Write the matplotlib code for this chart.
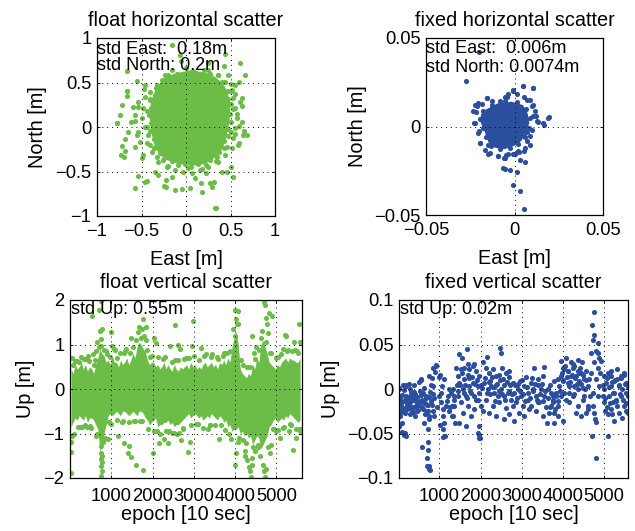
import matplotlib
matplotlib.use("Agg")
import matplotlib.pyplot as plt

plt.rcParams['font.family'] = ['Liberation Sans', 'DejaVu Sans']

GREEN = '#6cbd47'
BLUE = '#2c4e9e'

# ---------------- data ----------------
# float horizontal: dense core outline (east, north) + individual points
float_core_e = [-0.137, 0.061, 0.270, 0.380, 0.457, 0.501, 0.490, 0.457, 0.413, 0.336, 0.215, 0.061, -0.093,
                -0.247, -0.346, -0.390, -0.412, -0.390, -0.335, -0.236]
float_core_n = [0.597, 0.641, 0.597, 0.520, 0.421, 0.256, 0.058, -0.107, -0.239, -0.338, -0.415, -0.437,
                -0.415, -0.360, -0.239, -0.063, 0.135, 0.300, 0.432, 0.542]
float_e = [-0.16, 0.25, -0.06, 0.61, 0.43, 0.44, -0.07, -0.66, -0.55, -0.47, -0.66, -0.66, -0.72, -0.60,
           -0.54, -0.74, -0.62, -0.77, -0.57, -0.65, -0.55, -0.69, -0.72, -0.68, -0.73, -0.57, -0.48,
           -0.54, -0.57, -0.44, -0.32, -0.25, -0.22, -0.12, -0.04, 0.05, 0.18, 0.17, 0.27, 0.32, 0.22, 0.33,
           0.46, 0.51, 0.59, 0.55, 0.68, 0.65, 0.59, 0.57, 0.63, 0.63, 0.55, 0.51, 0.59,
           0.66, 0.64, -0.78, -0.70, -0.46, -0.22, 0.29, 0.34, 0.53, -0.66,
           -0.199, -0.273, -0.330, -0.404, -0.461, -0.479, -0.498, -0.461, -0.423, -0.442, -0.386, -0.311,
           -0.217, -0.124, -0.030, 0.064, 0.157, 0.251, 0.363, 0.438, 0.513, 0.532, 0.551, 0.569, 0.551,
           0.532, 0.513, 0.438, 0.363, 0.251, -0.161, -0.461, -0.536, -0.573, -0.536, -0.517, -0.498,
           -0.348, -0.161, 0.101, 0.401, 0.588, 0.625, 0.607, 0.551, 0.476,
           -0.10, 0.08, 0.27, 0.40, 0.47, 0.51, 0.50, 0.47, 0.43, 0.35, 0.22, 0.06, -0.09, -0.26, -0.36,
           -0.40, -0.42, -0.40, -0.34, -0.23,
           -0.03, 0.16, 0.31, 0.41, 0.47, 0.49, 0.47, 0.43, 0.37, 0.27, 0.13, -0.01, -0.16, -0.29, -0.36,
           -0.39, -0.39, -0.35, -0.27, -0.17,
           0.00, 0.20, 0.36, 0.50, 0.53, 0.50, 0.46, 0.34, 0.18, 0.02, -0.20, -0.33, -0.41, -0.44, -0.44,
           -0.41, -0.33, -0.24]
float_n = [0.92, 0.72, 0.74, 0.72, 0.68, 0.82, 0.81, 0.63, 0.52, 0.43, 0.40, 0.35, 0.25, 0.22,
           0.22, 0.13, 0.06, 0.04, 0.07, -0.06, -0.09, -0.14, -0.21, -0.27, -0.31, -0.23, -0.32,
           -0.55, -0.69, -0.61, -0.54, -0.66, -0.59, -0.71, -0.70, -0.69, -0.73, -0.63, -0.63, -0.62, -0.52, -0.91,
           -0.51, -0.45, -0.18, -0.08, -0.09, -0.04, 0.01, 0.15, 0.24, 0.33, 0.37, 0.48, 0.51,
           0.58, -0.09, 0.04, -0.34, -0.62, -0.67, -0.67, -0.91, -0.56, 0.40,
           0.584, 0.528, 0.472, 0.397, 0.341, 0.210, 0.097, 0.004, -0.090, -0.184, -0.277, -0.390,
           -0.446, -0.483, -0.502, -0.521, -0.483, -0.446, -0.390, -0.315, -0.240, -0.127, -0.015, 0.097, 0.210,
           0.322, 0.416, 0.509, 0.584, 0.640, 0.640, 0.472, 0.285, 0.135, -0.052, -0.165, -0.352,
           -0.502, -0.558, -0.577, -0.502, -0.202, 0.060, 0.285, 0.472, 0.584,
           0.60, 0.63, 0.59, 0.51, 0.41, 0.26, 0.06, -0.10, -0.24, -0.34, -0.43, -0.45, -0.43, -0.37, -0.24,
           -0.05, 0.14, 0.30, 0.44, 0.54,
           0.60, 0.60, 0.54, 0.45, 0.32, 0.15, -0.02, -0.16, -0.28, -0.37, -0.42, -0.42, -0.38, -0.29, -0.14,
           0.04, 0.21, 0.36, 0.48, 0.56,
           0.66, 0.64, 0.58, 0.40, 0.20, -0.06, -0.22, -0.38, -0.47, -0.46, -0.44, -0.34, -0.20, 0.00, 0.18,
           0.32, 0.46, 0.58]

# fixed horizontal: dense core outline + individual points
fixed_core_e = [-0.0165, -0.0092, -0.0016, 0.0048, 0.0074, 0.0084, 0.0065, 0.0038, 0.0000, -0.0056,
                -0.0110, -0.0147, -0.0166, -0.0190, -0.0190]
fixed_core_n = [0.0094, 0.0132, 0.0140, 0.0121, 0.0075, 0.0020, -0.0036, -0.0082, -0.0109, -0.0128,
                -0.0120, -0.0090, -0.0036, 0.0020, 0.0067]
fixed_e = [-0.0273, -0.0199, 0.0049, 0.0107, -0.0011, -0.0053, -0.0040, -0.0156, -0.0186, -0.0210, -0.0218,
           -0.0228, -0.0200, -0.0194, -0.0168, -0.0147, -0.0096, -0.0058, -0.0049, -0.0006, 0.0026, 0.0055,
           0.0085, 0.0062, 0.0030, -0.0064, -0.0055, -0.0024, 0.0013, -0.0006, 0.0030, 0.0055, 0.0196,
           0.0168, 0.0121, 0.0130, 0.0102, 0.0089, 0.0055, 0.0070, 0.0051,
           -0.0233, -0.0223, -0.0204, -0.0157, -0.0129, -0.0082, -0.0045, -0.0035, -0.0007, 0.0012, 0.0050,
           0.0107, 0.0069, 0.0097, 0.0116, 0.0107, 0.0126, 0.0163, 0.0191, 0.0097, 0.0088, 0.0069, 0.0060,
           0.0022, 0.0003, -0.0035, -0.0054, -0.0092, -0.0138, -0.0148, -0.0195, -0.0204, -0.0223,
           -0.0128, -0.0052, 0.0016, 0.0066, 0.0086, 0.0082, 0.0058, 0.0022, -0.0026, -0.0082, -0.0130,
           -0.0160, -0.0180, -0.0196, -0.0180]
fixed_n = [0.0256, 0.0420, 0.0228, 0.0217, 0.0209, 0.0169, 0.0169, 0.0160, 0.0128, 0.0113, 0.0081,
           0.0021, -0.0023, -0.0094, -0.0130, -0.0154, -0.0164, -0.0179, -0.0160, -0.0154, -0.0145, -0.0136,
           -0.0107, -0.0202, -0.0192, -0.0235, -0.0239, -0.0245, -0.0258, -0.0328, -0.0367, -0.0465, 0.0051,
           0.0009, 0.0062, 0.0024, 0.0119, 0.0147, 0.0166, -0.0032, -0.0051,
           0.0087, 0.0124, 0.0134, 0.0162, 0.0143, 0.0143, 0.0171, 0.0181, 0.0200, 0.0181, 0.0228,
           0.0218, 0.0152, 0.0115, 0.0087, 0.0058, 0.0030, 0.0021, 0.0049, -0.0017, -0.0055, -0.0083, -0.0121,
           -0.0140, -0.0158, -0.0158, -0.0177, -0.0168, -0.0149, -0.0102, -0.0092, -0.0036, 0.0021,
           0.0122, 0.0142, 0.0138, 0.0100, 0.0046, -0.0008, -0.0062, -0.0100, -0.0124, -0.0128, -0.0108,
           -0.0062, -0.0008, 0.0044, 0.0090]

# float vertical: dense band (per 50-epoch bin) + individual points
band_epoch = [25, 75, 125, 175, 225, 275, 325, 375, 425, 475, 525, 575, 625, 675, 725, 775, 825, 875,
              925, 975, 1025, 1075, 1125, 1175, 1225, 1275, 1325, 1375, 1425, 1475, 1525, 1575, 1625, 1675,
              1725, 1775, 1825, 1875, 1925, 1975, 2025, 2075, 2125, 2175, 2225, 2275, 2325, 2375, 2425, 2475,
              2525, 2575, 2625, 2675, 2725, 2775, 2825, 2875, 2925, 2975, 3025, 3075, 3125, 3175, 3225, 3275,
              3325, 3375, 3425, 3475, 3525, 3575, 3625, 3675, 3725, 3775, 3825, 3875, 3925, 3975, 4025, 4075,
              4125, 4175, 4225, 4275, 4325, 4375, 4425, 4475, 4525, 4575, 4625, 4675, 4725, 4775, 4825, 4875,
              4925, 4975, 5025, 5075, 5125, 5175, 5225, 5275, 5325, 5375, 5425, 5475, 5525, 5575]
band_hi = [0.45, 0.35, 0.55, 0.45, 0.50, 0.60, 0.45, 0.55, 0.40, 0.50, 0.45, 0.35, 0.55, 0.70, 0.90, 0.80,
           0.75, 0.60, 0.65, 0.55, 0.75, 0.60, 0.60, 0.50, 0.65, 0.55, 0.60, 0.70, 0.55, 0.65, 0.80, 0.70,
           0.95, 1.05, 1.00, 0.90, 0.85, 0.65, 0.55, 0.60, 0.60, 0.50, 0.55, 0.45, 0.50, 0.60, 0.45, 0.55,
           0.45, 0.40, 0.55, 0.45, 0.40, 0.50, 0.45, 0.50, 0.55, 0.45, 0.60, 0.50, 0.55, 0.45, 0.50, 0.45,
           0.55, 0.60, 0.50, 0.55, 0.60, 0.50, 0.55, 0.45, 0.60, 0.55, 0.65, 0.55, 0.70, 0.60, 0.95, 1.15,
           1.30, 1.00, 0.45, 0.35, 0.30, 0.25, 0.35, 0.30, 0.55, 0.45, 0.70, 0.60, 1.00, 1.10, 0.95, 0.80,
           0.60, 0.55, 0.50, 0.45, 0.55, 0.50, 0.60, 0.65, 0.70, 0.60, 0.70, 0.65, 0.65, 0.60, 0.60, 0.70]
band_lo = [-0.85, -0.75, -0.65, -0.70, -0.60, -0.65, -0.70, -0.60, -0.75, -0.65, -0.65, -0.70, -0.80, -0.90,
           -1.40, -1.30, -1.00, -0.80, -0.60, -0.55, -0.60, -0.55, -0.50, -0.55, -0.60, -0.50, -0.50, -0.55,
           -0.60, -0.55, -0.50, -0.55, -0.60, -0.50, -0.50, -0.55, -0.65, -0.70, -0.80, -0.75, -0.70, -0.65,
           -0.85, -0.80, -0.80, -0.75, -0.75, -0.70, -0.80, -0.75, -0.85, -0.80, -0.80, -0.75, -0.70, -0.65,
           -0.60, -0.55, -0.65, -0.60, -0.55, -0.60, -0.65, -0.60, -0.70, -0.65, -0.60, -0.65, -0.55, -0.60,
           -0.65, -0.70, -0.60, -0.65, -0.75, -0.70, -0.85, -0.80, -0.95, -0.90, -0.90, -0.85, -1.00, -0.95,
           -1.05, -1.00, -1.10, -1.05, -1.25, -1.15, -1.05, -1.10, -1.35, -1.25, -1.15, -1.05, -0.85, -0.80,
           -0.70, -0.65, -0.75, -0.70, -0.65, -0.70, -0.60, -0.65, -0.55, -0.60, -0.65, -0.70, -0.75, -0.70]
float_up_epoch = [20, 28, 16, 48, 60, 120, 230, 300, 435, 475, 531, 560, 644, 694, 716, 756, 772, 760, 740,
                  745, 752, 760, 755, 768, 756, 770, 780, 790, 918, 998, 1030, 1160, 1320, 1360, 1400, 1430,
                  1480, 1490, 1610, 1640, 1682, 1746, 1770, 1762, 1800, 1830, 1850, 2005, 2044, 2080, 2164,
                  2285, 2375, 2430, 2527, 2535, 2607, 2660, 2700, 2728, 2860, 2900, 2990, 2950, 3180, 3350,
                  3450, 3600, 3700, 3850, 3960, 3990, 4000, 4020, 4040, 4080, 4000, 4030, 4060, 4230, 4250,
                  4300, 4330, 4360, 4380, 4400, 4420, 4440, 4410, 4500, 4560, 4650, 4670, 4690, 4710, 4720,
                  4730, 4750, 4760, 4780, 4800, 4830, 4840, 4870, 4900, 4990, 5090, 5150, 5215, 5240, 5300,
                  5390, 5420, 5470, 5500, 5540, 5560, 5590,
                  200, 350, 420, 600, 650, 880, 950, 1100, 1250, 1300, 1550, 1700, 1950, 2100, 2250, 2400,
                  2550, 2650, 2800, 3100, 3250, 3400, 3550, 3650, 3800, 4150, 4200, 4300, 4450, 4550, 4620,
                  4850, 4950, 5050, 5150, 5250, 5350, 5450, 5550,
                  80, 180, 260, 380, 470, 590, 630, 700, 820, 900, 980, 1070, 1150, 1220, 1330, 1450, 1520,
                  1600, 1720, 1870, 1990, 2140, 2300, 2470, 2620, 2760, 2880, 3010, 3130, 3300, 3420, 3580,
                  3720, 3880, 4060, 4180, 4350, 4480, 4590, 4760, 4880, 5000, 5120, 5280, 5380, 5520,
                  100, 240, 370, 500, 620, 850, 1000, 1130, 1280, 1420, 1580, 1740, 1880, 2030, 2190, 2330,
                  2480, 2600, 2740, 2920, 3060, 3220, 3380, 3520, 3760, 3900, 4100, 4270, 4480, 4610, 4790,
                  4920, 5030, 5180, 5330, 5480, 5580]
float_up = [-1.89, -1.41, -1.20, -1.05, 0.70, 0.62, 0.60, -0.85, 0.74, -0.83, 1.63, 0.78, 1.06, 1.77, 1.30, 1.98,
            1.34, 1.12, 0.97, -1.28, -1.43, -1.58, -1.73, -1.84, -1.96, -1.50, -1.65, -1.20, -1.13, 1.27, 0.97,
            -1.06, -1.21, 0.89, -1.43, -1.28, 1.15, -1.52, -1.70, 1.28, 1.40, 1.34, 1.58, -1.81, 1.20, 1.10,
            1.40, -1.43, 1.15, 1.04, -1.21, -1.13, -1.22, 0.97, -0.98, 1.44, 1.00, 0.89, -1.15, -0.91, -1.41,
            -1.20, 1.53, 0.97, 0.92, -0.90, 0.78, -1.13, 0.75, -1.00, 1.34, 1.20, 1.77, 1.58, 1.45, 1.75,
            -1.70, -1.43, -1.20, -1.40, -1.50, -1.60, -1.75, -1.85, -1.98, -1.70, -1.55, -1.30, 1.19, 0.95,
            -1.30, 1.30, -1.70, -1.85, 1.96, -1.97, 1.88, -1.80, 1.60, 1.45, 1.25, 1.70, -1.44, -1.25, 1.64,
            -0.95, -1.10, 0.90, 1.21, 1.20, -0.95, -1.37, 1.05, -1.10, 0.85, 1.47, 1.06, -0.90,
            -0.85, 0.68, -0.85, 0.65, -1.00, 0.85, -0.75, 0.88, -0.75, 0.82, -0.72, -0.72, 0.72, -0.95,
            0.68, -0.95, 0.65, -0.98, 0.70, -0.78, 0.75, -0.80, 0.72, -0.82, 0.82, 0.65, -1.15, 0.50, 0.80,
            -1.25, 1.15, 0.80, -0.90, 0.72, -0.88, 0.85, -0.80, 0.88, -0.90,
            0.55, 0.62, 0.72, 0.68, 0.62, 0.55, 0.85, 0.95, 0.88, 0.78, 0.72, 0.90, 0.70, 0.80, 0.85, 0.80, 0.95,
            1.10, 1.15, 0.88, 0.75, 0.72, 0.72, 0.60, 0.65, 0.68, 0.70, 0.75, 0.65, 0.78, 0.72, 0.68,
            0.80, 0.85, 1.45, 0.55, 0.50, 0.68, 0.88, 1.05, 0.80, 0.70, 0.78, 0.88, 0.85, 0.82,
            -1.00, -0.85, -0.82, -0.88, -1.05, -1.10, -0.78, -0.70, -0.72, -0.75, -0.72, -0.72, -0.90, -0.95,
            -1.00, -0.95, -0.98, -1.02, -0.88, -0.80, -0.78, -0.88, -0.80, -0.82, -0.92, -1.12, -1.10, -1.22,
            -1.40, -1.50, -1.30, -0.90, -0.92, -0.85, -0.78, -0.90, -0.95]

# fixed vertical: individual points (epoch, up in mm)
fixed_up_epoch = [22, 47, 7, 22, 86, 102, 142, 167, 199, 223, 183, 264, 280, 304, 345, 385, 385, 426, 466, 466,
                  506, 547, 587, 603, 628, 652, 685, 709, 733, 749, 773, 789, 814, 830, 854, 870, 894, 910,
                  102, 142, 264, 385, 506, 547,
                  574, 736, 719, 703, 703, 743, 760, 784,
                  557, 760, 840, 921, 857, 679, 598, 719, 760, 638, 719, 760,
                  16, 32, 73, 113, 154, 48, 97, 16, 154, 178, 113, 194, 275, 315, 356, 396, 259, 339, 436, 194,
                  234, 291,
                  1002, 1042, 1083, 1123, 1147, 1164, 1204, 1244, 1285, 1325, 1365, 1067, 1123, 1228, 1309, 1341,
                  1390, 1083, 1026, 986, 1090,
                  1406, 1487, 1665, 1608, 1729, 1810, 1850, 1891, 1972, 1446, 1487, 1568, 1648, 1770, 1891, 2012,
                  1689, 1568, 1487, 1648, 1931, 1956, 1527, 1810, 1729, 1931, 1608, 1446, 1365, 1850, 1770, 1527,
                  1689, 1972, 2036, 1963, 1963, 1980,
                  2069, 2133, 2214, 2295, 2376, 2457, 2537, 2618, 2699, 2780, 2093, 2174, 2255, 2335, 2416, 2497,
                  2578, 2659, 2740, 2133, 2295, 2457, 2618, 2780, 2214, 2376, 2578, 2699, 2052, 2231, 2376, 2521,
                  2683, 2165, 2480, 2490,
                  2820, 2901, 2981, 3062, 3143, 3224, 2860, 3022, 2941, 2820, 3062, 3183, 2779, 2965, 3103, 3304,
                  3547, 3507, 3385, 3264, 3345, 3426, 3467, 3547, 3628, 3224, 3345, 3385, 3507, 3612, 3669, 3709,
                  3790, 3871, 3952, 3749, 3830, 3911, 3693, 3790, 3871, 3952, 3749, 3871, 3992, 3790,
                  3952, 4073, 4275, 4356, 4436, 4194, 4032, 4113, 4517, 4598, 4356, 4234, 4032, 4154, 4356, 4436,
                  4557, 4598, 3992, 4113, 4194, 4315, 4396, 4477, 4557, 4275, 4073, 4477, 4396, 4234, 4154, 4315,
                  4517, 4614, 3992, 4460,
                  4743, 4703, 4759, 4719, 4856, 4800, 4840, 4880, 4921, 4679, 4759, 4679, 4800, 4880, 4840, 4719,
                  4783, 4800, 4703, 4800, 5099, 4638, 4719, 4905, 4646, 4759, 4856,
                  5083, 5164, 5325, 5406, 5487, 5527, 5164, 5002, 5245, 5406, 5568, 5002, 5164, 5325, 5487, 5430,
                  5568, 5083, 5043, 5245, 5366, 5285, 4962, 5124, 5204, 5446, 5325, 5527, 5002, 5366, 5245, 5527,
                  5018, 5164,
                  60, 130, 210, 250, 320, 360, 410, 450, 490, 530, 570, 610, 660, 700, 790, 850, 880, 60, 170,
                  290, 400, 520,
                  950, 1050, 1100, 1180, 1260, 1300, 1350, 1020,
                  1420, 1460, 1510, 1550, 1590, 1630, 1670, 1710, 1750, 1790, 1830, 1870, 1910, 1950, 2000, 1700,
                  1560,
                  2110, 2150, 2200, 2240, 2280, 2320, 2360, 2400, 2440, 2480, 2520, 2560, 2600, 2640, 2680, 2720,
                  2760,
                  2840, 2880, 2920, 2960, 3000, 3040, 3080, 3120, 3160, 3200, 3240, 3280, 3320, 3360, 3400, 3440,
                  3480, 3520, 3560, 3600, 3640, 3680, 3720, 3760, 3800, 3840, 3880, 3920,
                  3970, 4010, 4050, 4090, 4130, 4170, 4210, 4250, 4290, 4330, 4370, 4410, 4450, 4490, 4530, 4570,
                  4150, 4280,
                  4980, 5030, 5060, 5110, 5140, 5190, 5220, 5270, 5300, 5350, 5390, 5420, 5460, 5500, 5540, 5570,
                  5060, 5200, 5480]
fixed_up_mm = [1, -10, -31, -42, -22, -7, -1, -27, -10, -18, 4, -9, -14, -22, -10, -3, -20, -14, -9, -25,
               -18, -7, -12, -22, 1, -16, -10, -25, -18, -9, -3, 4, 12, -18, -25, -10, 19, 27,
               -48, -52, 6, 5, 8, 10,
               -65, -60, -69, -77, -87, -87, -90, -91,
               11, 15, 24, 26, 3, -8, -15, -25, -30, -38, -45, -34,
               0, -8, -15, -25, -21, -30, -38, -42, -49, -53, 4, 3, 0, -4, -8, -12, -17, -23, -19, -8,
               -12, -15,
               -8, -15, -30, -38, -53, -19, -8, 0, -4, 0, -8, 3, 11, -25, -19, -30,
               -38, -45, 16, 13, -54,
               24, 39, 45, 24, 22, 26, 28, 20, 15, 15, 7, 0, -8, -4, -12, -19,
               -19, -27, -38, -42, -49, -55, -15, 7, 3, 3, 11, -8, -19, -23, -30, 22,
               16, -4, 1, -42, -52, -55,
               30, 24, 18, 22, 15, 16, 11, 18, 13, 7, 7, 0, 3, -4, -8, 0,
               -8, -4, -12, -12, -19, -15, -21, -19, -27, -30, -34, -28, -25, 9, 5, 24,
               20, 36, 46, 41,
               -4, 0, -8, 3, -12, 7, -15, -19, -27, -36, -30, -23, 7, 9, 13, 24,
               25, 15, 11, 0, -8, -15, 0, -8, 0, -19, -25, -15, -30, -38, -27, -19,
               -27, -19, -8, -8, -4, 3, 5, 9, 11, 15, -15, -30, -36, -38,
               31, 35, 26, 33, 18, 15, 22, 7, 11, 3, 0, -8, -4, -15, -19, -30,
               -27, -23, 9, 20, 30, 15, 9, 1, 20, 3, -12, -12, 18, 24, 3, -27,
               -8, -19, 24, 30,
               87, 72, 61, 55, 52, 43, 41, 35, 31, 41, 30, 18, 11, 3, -8, -19,
               -34, -37, -53, -77, -53, 11, -4, 18, -8, -27, 24,
               18, 15, 22, 15, 16, 7, 3, 0, -4, -8, -8, -15, -23, -19, -19, -33,
               -27, -28, 7, 9, 3, -12, -8, -8, -15, 0, 11, -4, 15, -27, -36, -25,
               -25, 20,
               -18, -14, -22, -16, -20, -26, -6, -18, -24, -14, -20, -4, -28, -18, -14, -6, -30, -26, -12,
               -28, -30, -2,
               -20, -4, -22, -14, -20, -30, -12, -40,
               5, -2, 5, 18, -4, 4, -10, 12, -2, 14, -8, 6, 10, -12, 5, 28,
               35,
               12, -4, 8, -6, 14, 2, -14, 6, -2, 10, -6, 4, -12, 8, -2, 4,
               -6,
               4, -10, 6, -2, 10, -6, -14, 2, -4, -10, 12, -2, 6, -12, 4, -6,
               6, -14, -2, -20, -10, -20, -4, -12, -22, -8, -14, -2,
               18, 10, 26, 14, 20, 8, 16, 28, 12, 6, 20, 24, 6, 16, 0, 10,
               -4, -6,
               4, -10, 12, 2, -16, 8, -4, 10, -14, 4, -6, 12, -12, 6, -16, 2,
               -20, -28, 18]

# ---------------- figure ----------------
fig = plt.figure(figsize=(6.35, 5.31), dpi=100)

MS = 3.7
TFS = 14.3
LFS = 14.3
KFS = 13.2
SFS = 13


def style(ax, xpad=4):
    ax.tick_params(direction='in', top=True, right=True, length=2.5, width=0.6,
                   labelsize=KFS, pad=4)
    ax.tick_params(axis='x', pad=xpad)
    for s in ax.spines.values():
        s.set_linewidth(0.9)
    ax.grid(True, linestyle=(0, (1, 4)), color='k', linewidth=0.7)
    ax.set_axisbelow(False)


# top-left
ax1 = fig.add_axes([97 / 635, 1 - 216 / 531, 178 / 635, 178 / 531])
ax1.fill(float_core_e, float_core_n, color=GREEN, lw=0)
ax1.plot(float_e, float_n, 'o', ms=MS, color=GREEN, mec='none')
ax1.set_xlim(-1, 1)
ax1.set_ylim(-1, 1)
ax1.set_xticks([-1, -0.5, 0, 0.5, 1])
ax1.set_yticks([-1, -0.5, 0, 0.5, 1])
ax1.set_xticklabels(['\u22121', '\u22120.5', '0', '0.5', '1'])
ax1.set_yticklabels(['\u22121', '\u22120.5', '0', '0.5', '1'])
style(ax1, xpad=5)
ax1.set_title('float horizontal scatter', fontsize=TFS, pad=9)
ax1.set_xlabel('East [m]', fontsize=LFS, labelpad=7)
ax1.set_ylabel('North [m]', fontsize=LFS, labelpad=6)
ax1.text(0.0, 0.938, 'std East:  0.18m', transform=ax1.transAxes, fontsize=SFS, va='center')
ax1.text(0.0, 0.843, 'std North: 0.2m', transform=ax1.transAxes, fontsize=SFS, va='center')

# top-right
ax2 = fig.add_axes([426 / 635, 1 - 215 / 531, 177 / 635, 177 / 531])
ax2.fill(fixed_core_e, fixed_core_n, color=BLUE, lw=0)
ax2.plot(fixed_e, fixed_n, 'o', ms=MS, color=BLUE, mec='none')
ax2.set_xlim(-0.05, 0.05)
ax2.set_ylim(-0.05, 0.05)
ax2.set_xticks([-0.05, 0, 0.05])
ax2.set_yticks([-0.05, 0, 0.05])
ax2.set_xticklabels(['\u22120.05', '0', '0.05'])
ax2.set_yticklabels(['\u22120.05', '0', '0.05'])
style(ax2, xpad=5)
ax2.set_title('fixed horizontal scatter', fontsize=TFS, pad=9)
ax2.set_xlabel('East [m]', fontsize=LFS, labelpad=7)
ax2.set_ylabel('North [m]', fontsize=LFS, labelpad=5)
ax2.text(0.0, 0.938, 'std East:  0.006m', transform=ax2.transAxes, fontsize=SFS, va='center')
ax2.text(0.0, 0.835, 'std North: 0.0074m', transform=ax2.transAxes, fontsize=SFS, va='center')

# bottom-left
ax3 = fig.add_axes([70 / 635, 1 - 478 / 531, 232 / 635, 178 / 531])
ax3.fill_between(band_epoch, band_lo, band_hi, color=GREEN, lw=0)
ax3.plot(float_up_epoch, float_up, 'o', ms=MS, color=GREEN, mec='none')
ax3.set_xlim(1, 5620)
ax3.set_ylim(-2, 2)
ax3.set_xticks([1000, 2000, 3000, 4000, 5000])
ax3.set_yticks([-2, -1, 0, 1, 2])
ax3.set_yticklabels(['\u22122', '\u22121', '0', '1', '2'])
style(ax3, xpad=7.5)
ax3.set_title('float vertical scatter', fontsize=TFS, pad=9)
ax3.set_xlabel('epoch [10 sec]', fontsize=LFS, labelpad=0)
ax3.set_ylabel('Up [m]', fontsize=LFS, labelpad=6)
ax3.text(0.005, 0.944, 'std Up: 0.55m', transform=ax3.transAxes, fontsize=SFS, va='center')

# bottom-right
ax4 = fig.add_axes([399 / 635, 1 - 478 / 531, 229 / 635, 178 / 531])
ax4.plot(fixed_up_epoch, [v / 1000 for v in fixed_up_mm], 'o', ms=MS, color=BLUE, mec='none')
ax4.set_xlim(20, 5580)
ax4.set_ylim(-0.1, 0.1)
ax4.set_xticks([1000, 2000, 3000, 4000, 5000])
ax4.set_yticks([-0.1, -0.05, 0, 0.05, 0.1])
ax4.set_yticklabels(['\u22120.1', '\u22120.05', '0', '0.05', '0.1'])
style(ax4, xpad=7.5)
ax4.set_title('fixed vertical scatter', fontsize=TFS, pad=9)
ax4.set_xlabel('epoch [10 sec]', fontsize=LFS, labelpad=0)
ax4.set_ylabel('Up [m]', fontsize=LFS, labelpad=5)
ax4.text(0.005, 0.944, 'std Up: 0.02m', transform=ax4.transAxes, fontsize=SFS, va='center')

fig.savefig('out.png', dpi=100)
